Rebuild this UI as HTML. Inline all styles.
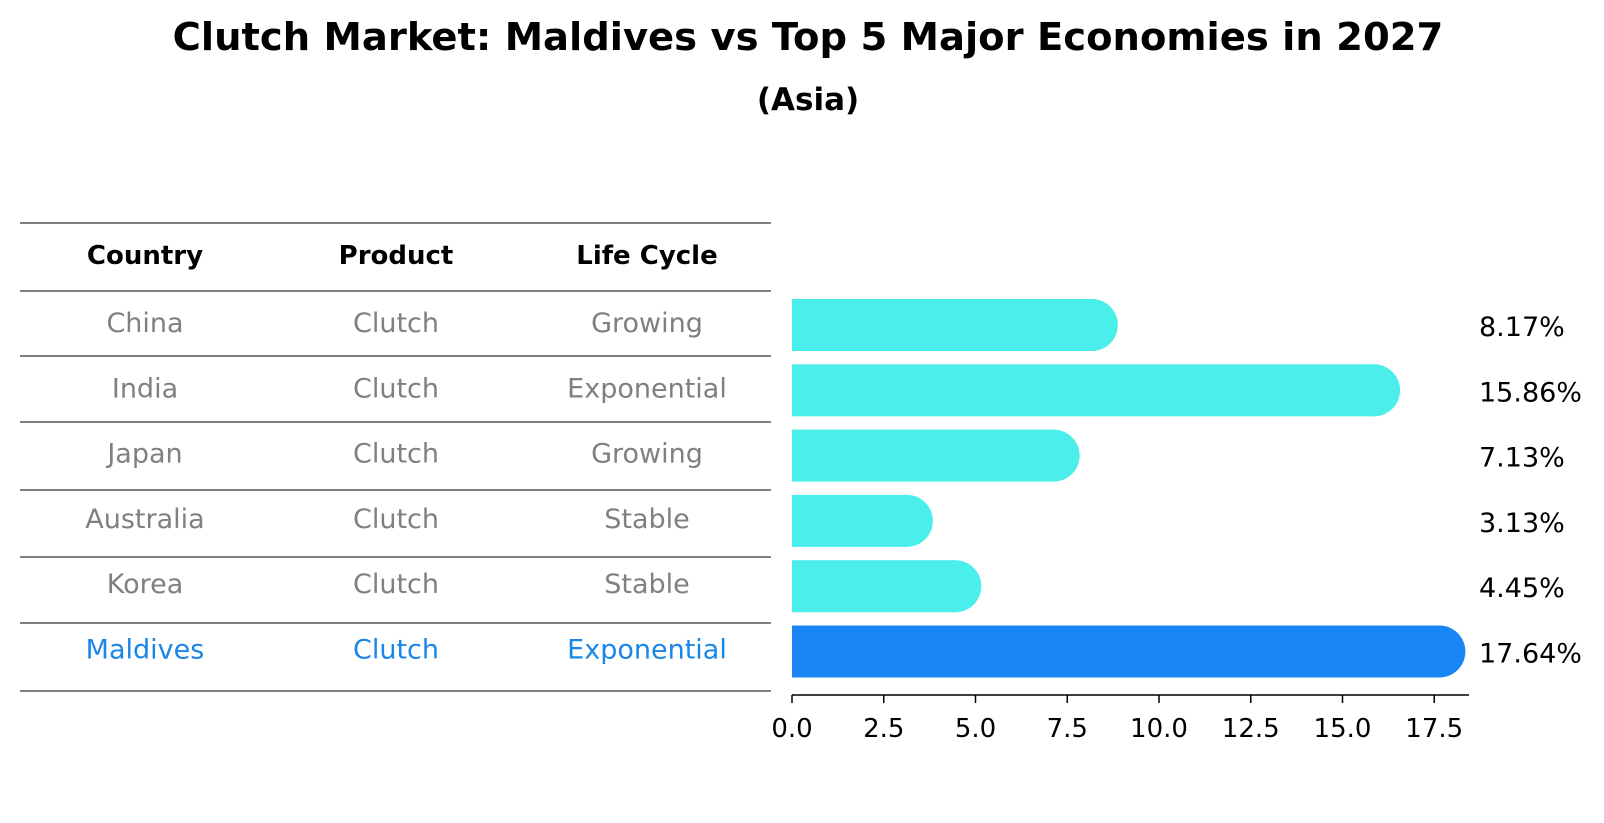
<!DOCTYPE html>
<html><head><meta charset="utf-8"><style>
html,body{margin:0;padding:0;background:#fff;}
svg{display:block;font-family:"DejaVu Sans","Liberation Sans",sans-serif;}
</style></head><body>
<svg id="chart" width="1604" height="823" viewBox="0 0 1604 823">
<text x="808" y="50" text-anchor="middle" font-size="38.5" font-weight="bold">Clutch Market: Maldives vs Top 5 Major Economies in 2027</text>
<text x="808" y="110" text-anchor="middle" font-size="31" font-weight="bold">(Asia)</text>
<g id="table"></g>
<g id="bars"></g>
<g id="axis"></g>
</svg>
<script>
const countries = ["China","India","Japan","Australia","Korea","Maldives"];
const products = ["Clutch","Clutch","Clutch","Clutch","Clutch","Clutch"];
const lifeCycles = ["Growing","Exponential","Growing","Stable","Stable","Exponential"];
const growth = [8.17,15.86,7.13,3.13,4.45,17.64];
const ticks = [0,2.5,5,7.5,10,12.5,15,17.5];
const highlight = "Maldives";

const NS="http://www.w3.org/2000/svg";
function mk(tag,attrs,parent){const e=document.createElementNS(NS,tag);for(const k in attrs)e.setAttribute(k,attrs[k]);parent.appendChild(e);return e;}
const x0=792, pxPerUnit=36.7;
const xScale=v=>x0+v*pxPerUnit;
const rowY=i=>325+i*65.3;
const barH=52;

const table=document.getElementById('table');
const lines=[223,291,356,422,490,557,623,691];
lines.forEach((y,i)=>{
  const l=mk('line',{x1:20,x2:771,y1:y,y2:y,stroke:'#000','stroke-width':1},table);
  
  
});
const colX=[145,396,647];
["Country","Product","Life Cycle"].forEach((h,j)=>{
  const t=mk('text',{x:colX[j],y:264,'text-anchor':'middle','font-size':26,'font-weight':'bold'},table);
  t.textContent=h;
  
  
});
countries.forEach((c,i)=>{
  const col=c===highlight?'#1a86e8':'#808080';
  [c,products[i],lifeCycles[i]].forEach((v,j)=>{
    const t=mk('text',{x:colX[j],y:rowY(i)+7,'text-anchor':'middle','font-size':27,fill:col},table);
    t.textContent=v;
    
    
  });
});

const bars=document.getElementById('bars');
countries.forEach((c,i)=>{
  const col=c===highlight?'#1a86f5':'#4aeeea';
  const cy=rowY(i), xv=xScale(growth[i]);
  const g=mk('g',{},bars);
  
  
  mk('rect',{x:x0,y:cy-barH/2,width:xv-x0,height:barH,fill:col},g);
  mk('circle',{cx:xv,cy:cy,r:barH/2,fill:col},g);
  const t=mk('text',{x:1479,y:cy+11,'font-size':27,fill:'#000'},bars);
  t.textContent=growth[i].toFixed(2)+'%';
  
  
});

const axis=document.getElementById('axis');
const al=mk('line',{x1:x0,x2:1469,y1:695,y2:695,stroke:'#000','stroke-width':1.5},axis);


ticks.forEach(v=>{
  const x=xScale(v);
  const tk=mk('line',{x1:x,x2:x,y1:695,y2:703,stroke:'#000','stroke-width':1.5},axis);
  
  
  const t=mk('text',{x:x,y:737,'text-anchor':'middle','font-size':26},axis);
  t.textContent=v.toFixed(1);
  
  
});
</script>
</body></html>
